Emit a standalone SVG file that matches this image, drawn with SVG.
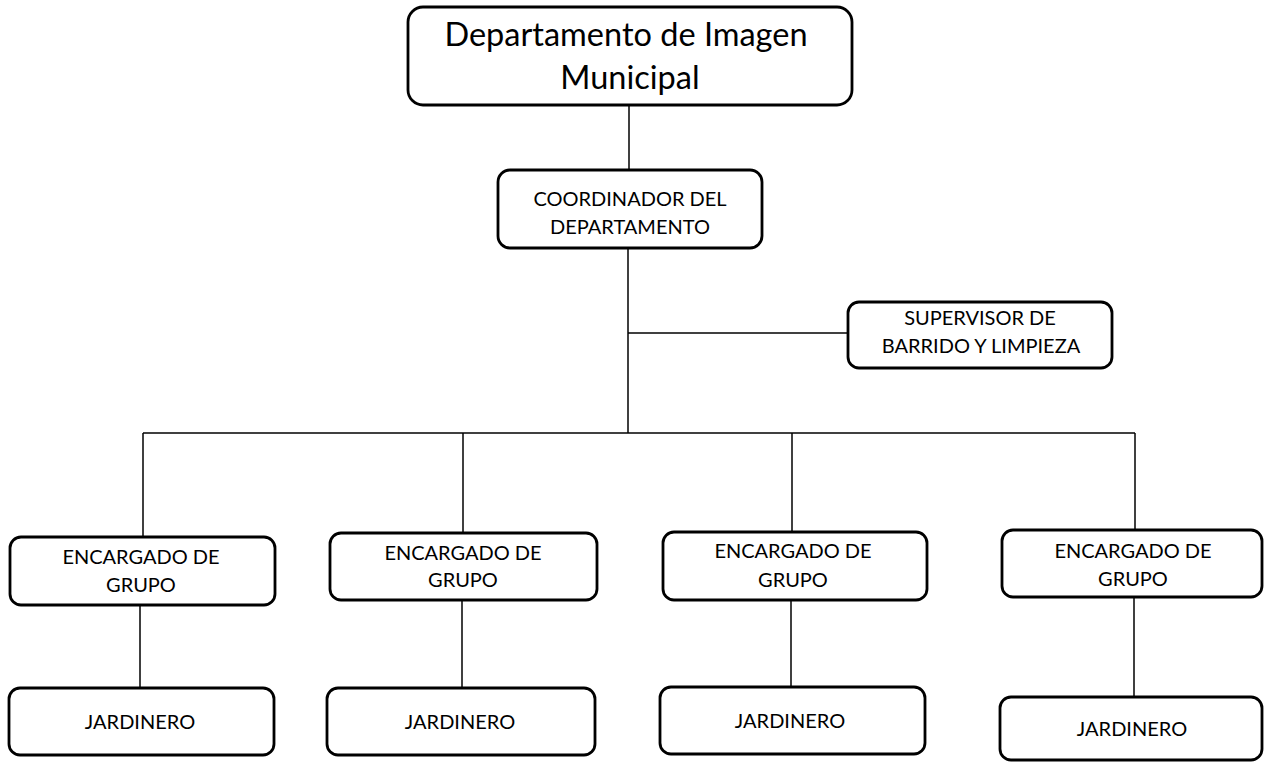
<svg xmlns="http://www.w3.org/2000/svg" width="1264" height="762" viewBox="0 0 1264 762">
<style>
.box{fill:#fff;stroke:#000;stroke-width:2.8}
.ln{stroke:#000;stroke-width:1.5;fill:none}
.t{font-family:Lato,"Open Sans","Liberation Sans",sans-serif;font-size:20px;fill:#000;text-anchor:middle}
.big{font-size:32.5px}
</style>
<rect width="1264" height="762" fill="#fff"/>
<g id="connectors">
<line class="ln" x1="629" y1="105" x2="629" y2="170"/>
<line class="ln" x1="628" y1="248" x2="628" y2="433"/>
<line class="ln" x1="628" y1="333" x2="848" y2="333"/>
<line class="ln" x1="143" y1="433" x2="1135" y2="433"/>
<line class="ln" x1="143" y1="433" x2="143" y2="537"/>
<line class="ln" x1="463" y1="433" x2="463" y2="533"/>
<line class="ln" x1="792" y1="433" x2="792" y2="532"/>
<line class="ln" x1="1135" y1="433" x2="1135" y2="530"/>
<line class="ln" x1="140" y1="605" x2="140" y2="688"/>
<line class="ln" x1="462" y1="600" x2="462" y2="688"/>
<line class="ln" x1="791" y1="600" x2="791" y2="687"/>
<line class="ln" x1="1134" y1="597" x2="1134" y2="697"/>
</g>
<g id="n-title">
<rect class="box" x="408" y="7" width="444" height="98" rx="15"/>
<text class="t big" x="626" y="46">Departamento de Imagen</text>
<text class="t big" x="630" y="89">Municipal</text>
</g>
<g id="n-coord">
<rect class="box" x="498" y="170" width="264" height="78" rx="12"/>
<text class="t" x="630" y="206">COORDINADOR DEL</text>
<text class="t" x="630" y="234">DEPARTAMENTO</text>
</g>
<g id="n-super">
<rect class="box" x="848" y="302" width="264" height="66" rx="11"/>
<text class="t" x="980" y="325">SUPERVISOR DE</text>
<text class="t" x="981" y="353">BARRIDO Y LIMPIEZA</text>
</g>
<g id="n-enc1">
<rect class="box" x="10" y="537" width="265" height="68" rx="11"/>
<text class="t" x="141" y="564">ENCARGADO DE</text>
<text class="t" x="141" y="592">GRUPO</text>
</g>
<g id="n-enc2">
<rect class="box" x="330" y="533" width="267" height="67" rx="11"/>
<text class="t" x="463" y="560">ENCARGADO DE</text>
<text class="t" x="463" y="587">GRUPO</text>
</g>
<g id="n-enc3">
<rect class="box" x="663" y="532" width="264" height="68" rx="11"/>
<text class="t" x="793" y="558">ENCARGADO DE</text>
<text class="t" x="793" y="587">GRUPO</text>
</g>
<g id="n-enc4">
<rect class="box" x="1002" y="530" width="260" height="67" rx="11"/>
<text class="t" x="1133" y="558">ENCARGADO DE</text>
<text class="t" x="1133" y="586">GRUPO</text>
</g>
<g id="n-jar1">
<rect class="box" x="9" y="688" width="265" height="67" rx="11"/>
<text class="t" x="140" y="729">JARDINERO</text>
</g>
<g id="n-jar2">
<rect class="box" x="327" y="688" width="268" height="67" rx="11"/>
<text class="t" x="460" y="729">JARDINERO</text>
</g>
<g id="n-jar3">
<rect class="box" x="660" y="687" width="265" height="67" rx="11"/>
<text class="t" x="790" y="728">JARDINERO</text>
</g>
<g id="n-jar4">
<rect class="box" x="1000" y="697" width="262" height="63" rx="11"/>
<text class="t" x="1132" y="736">JARDINERO</text>
</g>
</svg>
